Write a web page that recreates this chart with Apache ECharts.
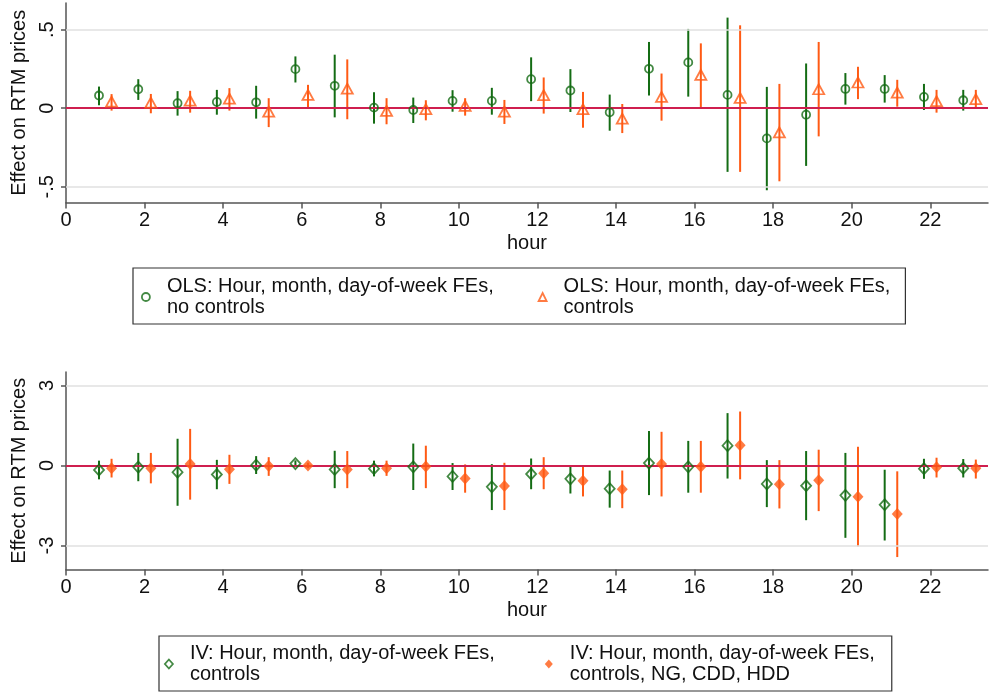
<!DOCTYPE html>
<html><head><meta charset="utf-8">
<script src="https://cdn.jsdelivr.net/npm/echarts@6/dist/echarts.min.js"></script>
<style>html,body{margin:0;padding:0;background:#fff}#c{width:989px;height:694px}</style>
</head><body><div id="c"></div>
<script>
// ---------- data ----------
const hours = [1,2,3,4,5,6,7,8,9,10,11,12,13,14,15,16,17,18,19,20,21,22,23];

const olsNoCtrl   = [0.081,0.121,0.032,0.040,0.038,0.249,0.143,0.004,-0.011,0.047,0.047,0.185,0.113,-0.026,0.251,0.292,0.085,-0.192,-0.041,0.123,0.123,0.072,0.051];
const olsNoCtrlLo = [0.019,0.053,-0.047,-0.041,-0.066,0.164,-0.058,-0.098,-0.094,-0.022,-0.041,0.045,-0.024,-0.143,0.081,0.074,-0.405,-0.522,-0.367,0.023,0.036,-0.011,-0.015];
const olsNoCtrlHi = [0.138,0.185,0.109,0.117,0.143,0.330,0.341,0.102,0.068,0.115,0.130,0.324,0.249,0.087,0.422,0.505,0.577,0.136,0.285,0.224,0.211,0.155,0.117];

const olsCtrl   = [0.042,0.036,0.049,0.061,-0.022,0.085,0.125,-0.017,-0.006,0.015,-0.022,0.083,-0.006,-0.066,0.072,0.213,0.066,-0.153,0.121,0.164,0.100,0.045,0.058];
const olsCtrlLo = [-0.015,-0.032,-0.028,-0.015,-0.120,0.008,-0.070,-0.102,-0.077,-0.047,-0.100,-0.034,-0.124,-0.158,-0.079,0.006,-0.405,-0.465,-0.179,0.058,0.010,-0.028,-0.002];
const olsCtrlHi = [0.090,0.091,0.111,0.128,0.064,0.149,0.311,0.064,0.051,0.064,0.053,0.196,0.104,0.027,0.221,0.413,0.528,0.155,0.422,0.264,0.181,0.117,0.117];

const ivCtrl   = [-0.17,-0.06,-0.25,-0.34,0.01,0.07,-0.15,-0.12,-0.05,-0.41,-0.80,-0.32,-0.50,-0.87,0.09,-0.05,0.74,-0.69,-0.76,-1.12,-1.47,-0.12,-0.10];
const ivCtrlLo = [-0.52,-0.59,-1.51,-0.89,-0.32,-0.06,-0.85,-0.41,-0.92,-0.92,-1.67,-0.89,-1.05,-1.58,-1.11,-1.02,-0.49,-1.56,-2.05,-2.71,-2.81,-0.50,-0.45];
const ivCtrlHi = [0.18,0.47,1.00,0.21,0.35,0.19,0.55,0.18,0.82,0.09,0.05,0.26,0.00,-0.19,1.29,0.92,1.96,0.20,0.54,0.47,-0.16,0.25,0.24];

const ivFull   = [-0.10,-0.10,0.05,-0.14,-0.02,0.00,-0.15,-0.10,-0.04,-0.49,-0.77,-0.29,-0.57,-0.89,0.05,-0.05,0.76,-0.70,-0.55,-1.17,-1.82,-0.07,-0.10];
const ivFullLo = [-0.45,-0.67,-1.28,-0.69,-0.39,-0.10,-0.85,-0.39,-0.85,-1.02,-1.67,-0.89,-1.16,-1.60,-1.16,-1.02,-0.52,-1.61,-1.71,-3.03,-3.43,-0.45,-0.49];
const ivFullHi = [0.25,0.47,1.37,0.40,0.31,0.10,0.54,0.18,0.74,0.04,0.10,0.31,0.01,-0.19,1.26,0.92,2.02,0.20,0.59,0.70,-0.22,0.29,0.22];

const xTickValues = [0,2,4,6,8,10,12,14,16,18,20,22];
const yTickValuesTop = [-0.5, 0, 0.5];
const yTickLabelsTop = ['-.5', '0', '.5'];
const yTickValuesBottom = [-3, 0, 3];
const yTickLabelsBottom = ['-3', '0', '3'];

const xTitle = 'hour';
const yTitle = 'Effect on RTM prices';
const namesTop = ['OLS: Hour, month, day-of-week FEs,\nno controls', 'OLS: Hour, month, day-of-week FEs,\ncontrols'];
const namesBottom = ['IV: Hour, month, day-of-week FEs,\ncontrols', 'IV: Hour, month, day-of-week FEs,\ncontrols, NG, CDD, HDD'];

// ---------- style ----------
const GREEN = '#146c14';
const ORANGE = '#ff5a14';
const RED = '#cf1f4f';
const GRIDC = '#e1e1e1';
const AXISC = '#555555';
const TXT = '#111111';
const FONT = '"Liberation Sans", Arial, Helvetica, sans-serif';
const DODGE = 0.16;

function pts(est, shift) { return hours.map((h, i) => [h + shift, est[i]]); }
function bars(lo, hi, shift) { return hours.map((h, i) => [h + shift, lo[i], hi[i]]); }

function errSeries(name, lo, hi, shift, color, idx, ticks) {
  const s = {
    name: name, type: 'custom', xAxisIndex: idx, yAxisIndex: idx, z: 3,
    data: bars(lo, hi, shift), encode: { x: 0, y: [1, 2] }, silent: true,
    renderItem: function (params, api) {
      const a = api.coord([api.value(0), api.value(1)]);
      const b = api.coord([api.value(0), api.value(2)]);
      return { type: 'line', shape: { x1: a[0], y1: a[1], x2: b[0], y2: b[1] },
        style: { stroke: color, lineWidth: 2 } };
    }
  };
  if (ticks) {
    s.markLine = {
      silent: true, symbol: 'none', label: { show: false }, animation: false,
      data: ticks.map(v => ({ yAxis: v, lineStyle: v === 0 ? { color: RED, width: 2, type: 'solid' } : { color: GRIDC, width: 1.5, type: 'solid' } }))
    };
  }
  return s;
}

function xAxisCfg(idx) {
  return {
    gridIndex: idx, type: 'value', min: 0, max: 23.47,
    axisLine: { show: true, onZero: false, lineStyle: { color: AXISC, width: 1.5 } },
    axisTick: { show: true, length: 6, customValues: xTickValues, lineStyle: { color: AXISC, width: 1.5 } },
    axisLabel: { customValues: xTickValues, margin: 8, fontSize: 20, color: TXT, fontFamily: FONT },
    splitLine: { show: false },
    name: xTitle, nameLocation: 'middle', nameGap: 31,
    nameTextStyle: { fontSize: 20, color: TXT, fontFamily: FONT }
  };
}
function yAxisCfg(idx, min, max, vals, labels) {
  return {
    gridIndex: idx, type: 'value', min: min, max: max,
    axisLine: { show: true, onZero: false, lineStyle: { color: AXISC, width: 1.5 } },
    axisTick: { show: true, length: 5, customValues: vals, lineStyle: { color: AXISC, width: 1.5 } },
    axisLabel: { customValues: vals, rotate: 90, margin: 9, fontSize: 20, color: TXT, fontFamily: FONT,
      formatter: v => { const k = vals.findIndex(t => Math.abs(t - v) < 1e-9); return k >= 0 ? labels[k] : ''; } },
    splitLine: { show: false },
    name: yTitle, nameLocation: 'middle', nameGap: 35, nameRotate: 90,
    nameTextStyle: { fontSize: 20, color: TXT, fontFamily: FONT }
  };
}
const hollow = c => ({ color: 'rgba(0,0,0,0)', borderColor: c, borderWidth: 1.8 });

const legendText = { fontSize: 20, lineHeight: 21, color: TXT, fontFamily: FONT, padding: [0, 0, 0, 12] };

const option = {
  animation: false,
  backgroundColor: '#ffffff',
  grid: [
    { left: 66, top: 3, width: 922, height: 199.5, containLabel: false, outerBoundsMode: 'none' },
    { left: 66, top: 372, width: 922, height: 197.6, containLabel: false, outerBoundsMode: 'none' }
  ],
  xAxis: [xAxisCfg(0), xAxisCfg(1)],
  yAxis: [
    yAxisCfg(0, -0.6, 0.67, yTickValuesTop, yTickLabelsTop),
    yAxisCfg(1, -3.9, 3.5, yTickValuesBottom, yTickLabelsBottom)
  ],
  legend: [
    {
      data: [
        { name: namesTop[0], icon: 'circle', itemStyle: hollow(GREEN) },
        { name: namesTop[1], icon: 'triangle', itemStyle: hollow(ORANGE) }
      ],
      left: 133, top: 268, orient: 'horizontal', itemGap: 44, itemWidth: 8, itemHeight: 8,
      padding: [8, 15, 6, 8], borderColor: '#333', borderWidth: 1.2, selectedMode: false,
      textStyle: legendText
    },
    {
      data: [
        { name: namesBottom[0], icon: 'diamond', itemStyle: hollow(GREEN) },
        { name: namesBottom[1], icon: 'diamond', itemStyle: { color: ORANGE, borderWidth: 0 } }
      ],
      left: 159, top: 636, orient: 'horizontal', itemGap: 50, itemWidth: 8, itemHeight: 9,
      padding: [7, 17, 6, 5], borderColor: '#333', borderWidth: 1.2, selectedMode: false,
      textStyle: legendText
    }
  ],
  series: [
    errSeries('ci-ols-noctrl', olsNoCtrlLo, olsNoCtrlHi, -DODGE, GREEN, 0, yTickValuesTop),
    errSeries('ci-ols-ctrl', olsCtrlLo, olsCtrlHi, DODGE, ORANGE, 0, null),
    { name: namesTop[0], type: 'scatter', xAxisIndex: 0, yAxisIndex: 0, z: 5, symbol: 'circle', symbolSize: 8,
      itemStyle: hollow(GREEN), data: pts(olsNoCtrl, -DODGE) },
    { name: namesTop[1], type: 'scatter', xAxisIndex: 0, yAxisIndex: 0, z: 5, symbol: 'triangle', symbolSize: [11, 10],
      itemStyle: hollow(ORANGE), data: pts(olsCtrl, DODGE) },

    errSeries('ci-iv-ctrl', ivCtrlLo, ivCtrlHi, -DODGE, GREEN, 1, yTickValuesBottom),
    errSeries('ci-iv-full', ivFullLo, ivFullHi, DODGE, ORANGE, 1, null),
    { name: namesBottom[0], type: 'scatter', xAxisIndex: 1, yAxisIndex: 1, z: 5, symbol: 'diamond', symbolSize: [10, 11],
      itemStyle: hollow(GREEN), data: pts(ivCtrl, -DODGE) },
    { name: namesBottom[1], type: 'scatter', xAxisIndex: 1, yAxisIndex: 1, z: 5, symbol: 'diamond', symbolSize: [11, 12],
      itemStyle: { color: ORANGE }, data: pts(ivFull, DODGE) }
  ]
};

const chart = echarts.init(document.getElementById('c'), null, { renderer: 'canvas' });
chart.setOption(option);
</script>
</body></html>
